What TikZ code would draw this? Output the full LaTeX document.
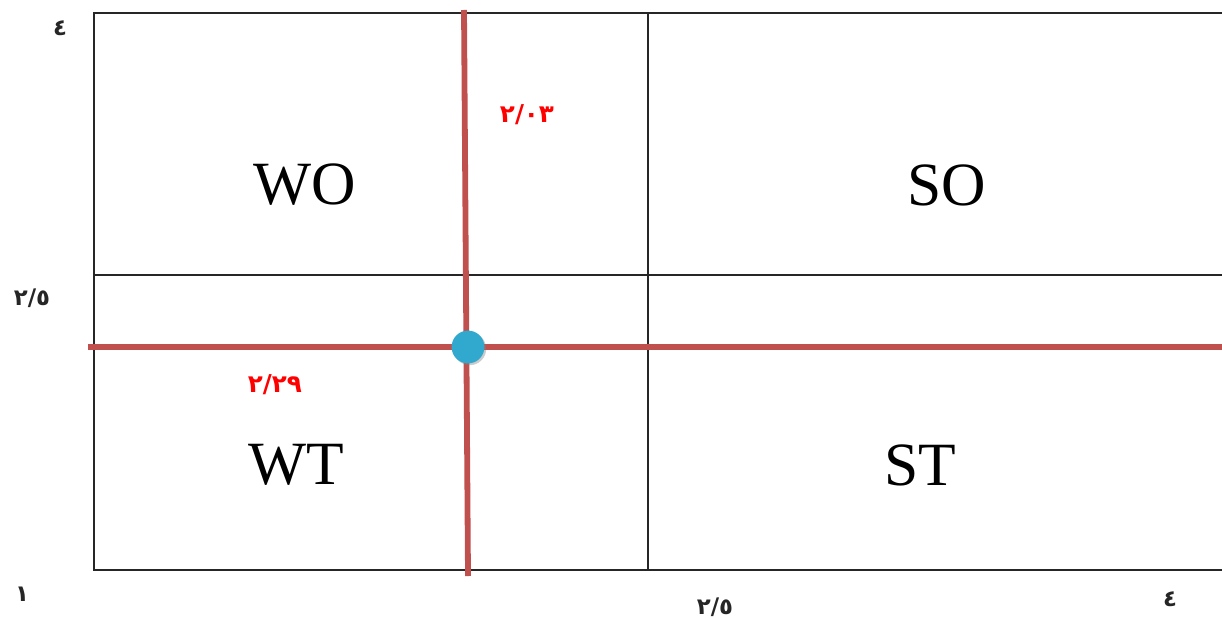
\documentclass[tikz,border=0pt]{standalone}
\usepackage{fontspec}
\setmainfont{Liberation Serif}
\newfontfamily\arabicfont[Script=Arabic]{DejaVu Sans}
\usetikzlibrary{positioning,shadows}
\definecolor{swotred}{HTML}{C0504D}
\definecolor{swotblue}{HTML}{31A9CF}
\definecolor{swotgray}{HTML}{262626}

\begin{document}
\begin{tikzpicture}[x=0.02cm,y=-0.02cm]
\tikzset{grid/.style={draw=swotgray,line width=1.1pt},
axis/.style={draw=swotred,line width=3.3pt},
quad/.style={font=\fontsize{35}{36}\selectfont},
tick/.style={font=\arabicfont\bfseries\fontsize{13}{14}\selectfont,text=swotgray},
score/.style={font=\arabicfont\bfseries\fontsize{14}{15}\selectfont,text=red}}
\useasboundingbox (0,0) rectangle (1222,618);
\clip (0,0) rectangle (1222,618);
% matrix frame
\coordinate (tl) at (94,13);
\coordinate (br) at (1240,570);
\draw[grid] (1240,13) -- (tl) -- (94,570) -- (br);
\draw[grid] (648,13) -- (648,570);
\draw[grid] (94,275) -- (1240,275);
% quadrants
\node[quad] (wo) at (305,185) {WO};
\node[quad] (so) at (947,185) {SO};
\node[quad] (wt) at (296,465) {WT};
\node[quad] (st) at (920,465) {ST};
% axis ticks
\node[tick] (ytop) at (60,28) {٤};
\node[tick] (ymid) at (32,298) {٢/٥};
\node[tick] (orig) at (22,594) {١};
\node[tick] (xmid) at (715,607) {٢/٥};
\node[tick] (xend) at (1170,599) {٤};
% scores
\coordinate (ifetop) at (464,10);
\coordinate (ifebot) at (468,576);
\coordinate (efeleft) at (88,347);
\coordinate (eferight) at (1240,347);
\draw[axis] (ifetop) -- (ifebot);
\draw[axis] (efeleft) -- (eferight);
\node[score] (ife) at (527,115) {٢/٠٣};
\node[score] (efe) at (275,385) {٢/٢٩};
\node[circle,fill=swotblue,minimum size=33pt*0.02/0.0352778,inner sep=0pt,
  drop shadow={shadow xshift=1pt,shadow yshift=-1pt,opacity=0.4}] (pos) at (468,347) {};
\end{tikzpicture}
\end{document}
